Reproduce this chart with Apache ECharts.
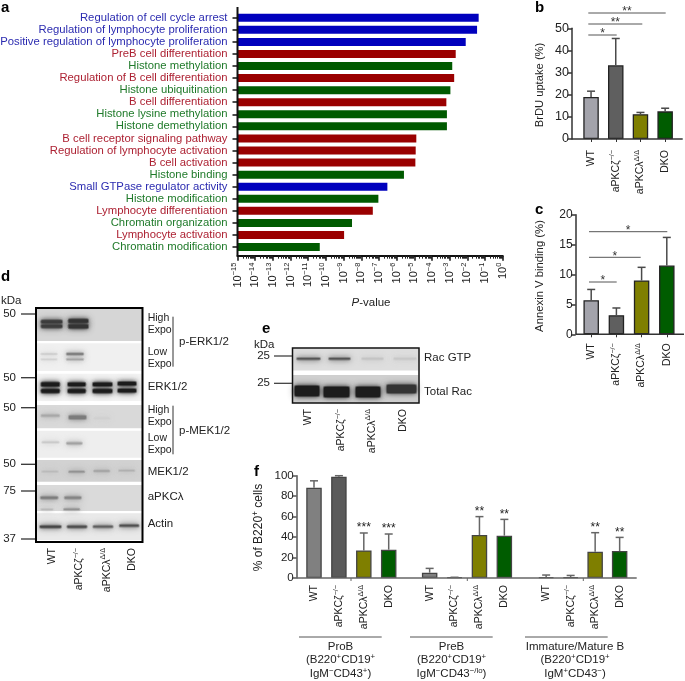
<!DOCTYPE html>
<html><head><meta charset="utf-8">
<style>html,body{margin:0;padding:0;background:#fff}#c{width:685px;height:681px}</style>
<script src="https://cdn.jsdelivr.net/npm/echarts@6/dist/echarts.min.js"></script>
</head><body><div id="c"></div>
<script>
// ---------- data ----------
const goTerms = ['Regulation of cell cycle arrest','Regulation of lymphocyte proliferation','Positive regulation of lymphocyte proliferation','PreB cell differentiation','Histone methylation','Regulation of B cell differentiation','Histone ubiquitination','B cell differentiation','Histone lysine methylation','Histone demethylation','B cell receptor signaling pathway','Regulation of lymphocyte activation','B cell activation','Histone binding','Small GTPase regulator activity','Histone modification','Lymphocyte differentiation','Chromatin organization','Lymphocyte activation','Chromatin modification'];
const goPvalues = [0.0437,0.0355,0.0081,0.0022,0.0014,0.0018,0.0011,6.5e-4,7e-4,7e-4,1.3e-5,1.2e-5,1.15e-5,2.6e-6,3e-7,9.3e-8,4.5e-8,3e-9,1.07e-9,4.5e-11];
const goClass = ['sig','sig','sig','bcell','hist','bcell','hist','bcell','hist','hist','bcell','bcell','bcell','hist','sig','hist','bcell','hist','bcell','hist'];
const genotypes = ['WT','aPKCζ−/−','aPKCλΔ/Δ','DKO'];
const brduMean = [19,33.3,11.2,12.5];
const brduUpper = [21.6,45.4,12,13.9];
const annexinMean = [5.7,3.2,9,11.5];
const annexinUpper = [7.5,4.4,11.2,16.2];
const proBMean = [88.3,99,27,27.7];
const proBUpper = [95,100,44,43];
const proBSig = ['','','***','***'];
const preBMean = [5.2,0.7,42,41.4];
const preBUpper = [9.4,0.7,60,57.3];
const preBSig = ['','','**','**'];
const matBMean = [0.8,0.8,25.7,26.4];
const matBUpper = [2.9,2.5,44.3,39.7];
const matBSig = ['','','**','**'];
const logTicks = 15;

// ---------- styling ----------
const FONT = '"Liberation Sans", Arial, sans-serif';
const barCol = {sig:'#0000bd', bcell:'#9a0000', hist:'#005a00'};
const txtCol = {sig:'#2b2bb0', bcell:'#ad2233', hist:'#1f7a2a'};
const genoCol = ['#a3a3ab','#5f5f5f','#7f7f00','#005c00'];
const genoColF = ['#808080','#5a5a5a','#7f7f00','#005c00'];
const richFor = (fs, col) => ({
  m:{fontFamily:FONT,fontSize:fs,color:col||'#222',lineHeight:fs+3},
  s:{fontFamily:FONT,fontSize:fs*0.68,color:col||'#222',lineHeight:fs+3,verticalAlign:'top'}
});
const geno = s => { const m = s.match(/^(aPKC.)(.+)$/); return m ? `{m|${m[1]}}{s|${m[2]}}` : `{m|${s}}`; };

// ---------- chart parts ----------
const graphic = [];
const line = (x1,y1,x2,y2,col,w) => graphic.push({type:'line',silent:true,z:20,shape:{x1,y1,x2,y2},style:{stroke:col||'#222',lineWidth:w||1}});
const text = (x,y,t,o) => { o=o||{}; graphic.push({type:'text',silent:true,z:30,x,y,rotation:o.rot||0,style:{text:t,fontFamily:FONT,fontSize:o.fs||11.5,fontWeight:o.w||'normal',fontStyle:o.it||'normal',fill:o.col||'#222',align:o.align||'left',verticalAlign:o.va||'middle',rich:o.rich}}); };
const rect = (x,y,w,h,fill,blur,z) => graphic.push({type:'rect',silent:true,z:z||10,shape:{x,y,width:w,height:h},style:blur?{fill,shadowColor:fill,shadowBlur:blur}:{fill}});
const smear = (x,y,w,h,fill) => {
  graphic.push({type:'rect',silent:true,z:6,shape:{x:x-1,y:y-1,width:w+2,height:h+2,r:2},style:{fill,opacity:0.45,shadowColor:fill,shadowBlur:7}});
  graphic.push({type:'rect',silent:true,z:7,shape:{x,y,width:w,height:h,r:1},style:{fill,shadowColor:fill,shadowBlur:4}});
};

// panel letters
[['a',1,8],['b',535,8],['c',535,210],['d',1,277],['e',262,329],['f',254,472]].forEach(p=>text(p[1],p[2],p[0],{fs:15,w:'bold',col:'#000'}));

// brackets
const bracket=(x1,x2,y,stars,col)=>{ line(x1,y,x2,y,col||'#555',1); text((x1+x2)/2,y-1,stars,{fs:12,align:'center',col:'#333'}); };
bracket(588.3,616.7,35,'*'); bracket(588.3,642.3,24,'**'); bracket(588.3,665.7,13,'**');
bracket(589,616.7,282,'*'); bracket(589,640.7,257.3,'*'); bracket(589,667.3,231.7,'*');

// axis titles
text(371,303,'{i|P}{m|-value}',{align:'center',rich:{i:{fontFamily:FONT,fontSize:11.5,fontStyle:'italic',color:'#222'},m:{fontFamily:FONT,fontSize:11.5,color:'#222'}}});
text(540,85,'BrDU uptake (%)',{rot:Math.PI/2,align:'center',fs:11.2});
text(540,276,'Annexin V binding (%)',{rot:Math.PI/2,align:'center',fs:11.3});
text(259,527.5,'{m|% of B220}{s|+}{m| cells}',{rot:Math.PI/2,align:'center',rich:richFor(12)});

// axis extensions
line(237.5,7,237.5,256.5,'#111',2);
line(572,139,682.7,139,'#333',1.5);
line(575.7,334.3,684,334.3,'#333',1.5);
line(296.7,578,636.7,578,'#666',1.5);
[351,467.3,583.3].forEach(x=>line(x,578,x,581,'#666',1));

// group captions in f
const capt=(x0,x1,cx,l)=>{ line(x0,637,x1,637,'#555',1); l.forEach((t,i)=>text(cx,[646.7,660,674.3][i],t,{align:'center',rich:richFor(11.5)})); };
capt(299,381.7,340.5,['{m|ProB}','{m|(B220}{s|+}{m|CD19}{s|+}','{m|IgM}{s|−}{m|CD43}{s|+}{m|)}']);
capt(410,492.7,451.5,['{m|PreB}','{m|(B220}{s|+}{m|CD19}{s|+}','{m|IgM}{s|−}{m|CD43}{s|−/lo}{m|)}']);
capt(525,607.7,575,['{m|Immature/Mature B}','{m|(B220}{s|+}{m|CD19}{s|+}','{m|IgM}{s|+}{m|CD43}{s|−}{m|)}']);

// ---------- panel d, blot image ----------
const dx=v=>v/3, dy=v=>265+v/3;
const dStrips=[[132,228,'#d6d6d6'],[235,318,'#f0f0f0'],[326,408,'#f3f3f3'],[420,490,'#d9d9d9'],[497,578,'#eeeeee'],[585,650,'#d2d2d2'],[660,738,'#dadada'],[745,825,'#e9e9e9']];
const dBands=[[124,186,170,9,'#3c3c3c'],[124,186,184,9,'#3c3c3c'],[206,264,168,11,'#333'],[206,264,184,11,'#333'],
[124,170,267,2,'#c4c4c4'],[124,170,283,2,'#cfcfcf'],[200,250,267,4,'#777'],[200,250,283,4,'#a5a5a5'],
[124,178,358,11,'#1c1c1c'],[124,178,378,11,'#1c1c1c'],[204,256,358,10,'#1c1c1c'],[204,256,378,10,'#1c1c1c'],[279,336,358,10,'#1c1c1c'],[279,336,378,10,'#1c1c1c'],[354,408,356,10,'#1c1c1c'],[354,408,377,10,'#1c1c1c'],
[124,178,452,5,'#a8a8a8'],[207,258,457,10,'#7c7c7c'],[283,328,460,3,'#cfcfcf'],[127,176,532,3,'#c6c6c6'],[200,246,535,5,'#a2a2a2'],
[127,173,620,2,'#b8b8b8'],[207,253,620,3,'#8c8c8c'],[282,328,618,3,'#9d9d9d'],[357,403,617,2,'#adadad'],
[122,173,698,6,'#7d7d7d'],[194,243,698,6,'#858585'],[124,158,733,2,'#b5b5b5'],[192,238,733,3,'#8a8a8a'],
[120,183,785,6,'#474747'],[202,260,785,6,'#4f4f4f'],[280,338,785,5,'#606060'],[359,416,782,5,'#505050']];
dStrips.forEach(s=>rect(dx(106),dy(s[0]),dx(322),(s[1]-s[0])/3,s[2],0,5));
dBands.forEach(b=>smear(dx(b[0]),dy(b[2]-b[3]/2),(b[1]-b[0])/3,b[3]/3,b[4]));
graphic.push({type:'rect',silent:true,z:12,shape:{x:36,y:308,width:106.5,height:234},style:{fill:'none',stroke:'#000',lineWidth:2}});
text(1,301,'kDa',{fs:11.5});
[[50,314],[50,377.7],[50,407.7],[50,464.3],[75,491],[37,539]].forEach(t=>{ text(16,t[1],String(t[0]),{align:'right',fs:11.5}); line(21,t[1],35,t[1],'#333',1.3); });
[['High',318],['Expo',330],['Low',352],['Expo',363.7],['ERK1/2',387],['High',410.3],['Expo',421.7],['Low',438.3],['Expo',450],['MEK1/2',471.7],['aPKCλ',496.7],['Actin',524.3]].forEach(t=>text(147.7,t[1],t[0],{fs:/High|Expo|Low/.test(t[0])?10.5:11.5}));
[['p-ERK1/2',342.3],['p-MEK1/2',430.7]].forEach(t=>text(179,t[1],t[0],{fs:11.5}));
line(173,316.7,173,366.7,'#333',1); line(173,405.7,173,454.3,'#333',1);
[51.7,79,106.7,131.7].forEach((x,i)=>text(x,548,geno(genotypes[i]),{rot:Math.PI/2,align:'right',rich:richFor(10.5)}));

// ---------- panel e, blot image ----------
rect(293,348.5,125.5,22,'#dedede',0,5);
rect(293,375,125.5,28,'#cfcfcf',0,5);
[[297,320,'#555'],[329,350,'#555'],[362,383,'#c4c4c4'],[394,416,'#c8c8c8']].forEach(b=>smear(b[0],358,b[1]-b[0],1.5,b[2]));
[[295,319,386,10,'#1c1c1c'],[324,349,387,10,'#1c1c1c'],[356,380,387,10,'#1c1c1c'],[387,416,385,8,'#333']].forEach(b=>smear(b[0],b[2],b[1]-b[0],b[3],b[4]));
rect(293,371,125.5,4,'#fff',0,8);
graphic.push({type:'rect',silent:true,z:12,shape:{x:292.5,y:348,width:126.5,height:55},style:{fill:'none',stroke:'#111',lineWidth:1.5}});
text(254,345,'kDa',{fs:11.5});
[[25,356],[25,383.3]].forEach(t=>{ text(270,t[1],String(t[0]),{align:'right',fs:11.5}); line(274,t[1],292,t[1],'#333',1.2); });
text(424,358,'Rac GTP',{fs:11.5}); text(424,392,'Total Rac',{fs:11.5});
[308,341,371.7,402.7].forEach((x,i)=>text(x,409,geno(genotypes[i]),{rot:Math.PI/2,align:'right',rich:richFor(10.5)}));

// ---------- series helpers ----------
const errSeries=(g,upper,means,sig,col)=>({type:'custom',xAxisIndex:g,yAxisIndex:g,z:4,clip:false,
  data:upper.map((u,i)=>[i,means[i],u]),encode:{x:0,y:[1,2]},
  renderItem:(p,api)=>{
    const a=api.coord([api.value(0),api.value(1)]), b=api.coord([api.value(0),api.value(2)]);
    const st={stroke:col||'#4a4a4a',lineWidth:1.5};
    const ch=[{type:'line',shape:{x1:a[0],y1:a[1],x2:b[0],y2:b[1]},style:st},
              {type:'line',shape:{x1:a[0]-4,y1:b[1],x2:a[0]+4,y2:b[1]},style:st}];
    if(sig&&sig[p.dataIndex]) ch.push({type:'text',x:a[0],y:b[1]+1,style:{text:sig[p.dataIndex],fontFamily:FONT,fontSize:12,fill:'#222',align:'center',verticalAlign:'bottom'}});
    return {type:'group',children:ch};
  }});
const barSeries=(g,vals,cols,border)=>({type:'bar',xAxisIndex:g,yAxisIndex:g,barWidth:15.5,z:3,
  data:vals.map((v,i)=>({value:v,itemStyle:{color:cols[i],borderColor:border||'#222',borderWidth:1.3}}))});
const catAxis=(g,fs,margin,tick)=>({type:'category',gridIndex:g,data:genotypes,axisLine:{show:false,onZero:false},
  axisTick:{show:tick,alignWithLabel:true,length:3,lineStyle:{color:'#333',width:1}},
  axisLabel:{interval:0,rotate:90,margin,formatter:geno,rich:richFor(fs),fontFamily:FONT}});
const valAxis=(g,max,interval,off,fs,col)=>({type:'value',gridIndex:g,min:0,max,interval,offset:off,splitLine:{show:false},
  axisLine:{show:true,onZero:false,lineStyle:{color:col||'#333',width:1.5}},axisTick:{show:true,length:4,lineStyle:{color:col||'#333',width:1.5}},
  axisLabel:{fontFamily:FONT,fontSize:fs,color:'#222',margin:3}});

const fixedGrid=g=>Object.assign({outerBoundsMode:'none',containLabel:false},g);
const option={
  animation:false,backgroundColor:'#fff',
  grid:[
    {left:237.5,top:11.7,width:265.2,height:241.4},
    {left:578.7,top:28.3,width:98.8,height:110.7},
    {left:578.6,top:214.7,width:100.8,height:119.6},
    {left:301.55,top:475.7,width:99.6,height:102.3},
    {left:417.2,top:475.7,width:99.6,height:102.3},
    {left:533.9,top:475.7,width:98,height:102.3}
  ].map(fixedGrid),
  xAxis:[
    {type:'log',logBase:10,gridIndex:0,min:Math.pow(10,-logTicks),max:1,offset:2.6,position:'bottom',splitNumber:logTicks,interval:1,
     axisLine:{show:true,onZero:false,lineStyle:{color:'#111',width:2}},
     axisTick:{show:true,length:5,lineStyle:{color:'#111',width:1.5}},
     minorTick:{show:true,splitNumber:9,length:3,lineStyle:{color:'#222',width:1}},
     splitLine:{show:false},
     axisLabel:{rotate:90,margin:7,hideOverlap:false,interval:0,rich:richFor(11),
       formatter:v=>`{m|10}{s|${Math.round(Math.log10(v)).toString().replace('-','−')}}`}},
    catAxis(1,10.5,11,true),catAxis(2,10.5,9,true),
    catAxis(3,10.5,7,false),catAxis(4,10.5,7,false),catAxis(5,10.5,7,false)
  ],
  yAxis:[
    {type:'category',gridIndex:0,inverse:true,data:goTerms,
     axisLine:{show:false,onZero:false},axisTick:{show:true,alignWithLabel:true,length:5,lineStyle:{color:'#111',width:1.5}},
     axisLabel:{interval:0,margin:10,fontFamily:FONT,fontSize:11.3,color:(v,i)=>txtCol[goClass[i]]}},
    valAxis(1,50,10,6.7,12.5),
    valAxis(2,20,5,2.9,12),
    valAxis(3,100,20,4.85,11.5,'#555'),
    Object.assign(valAxis(4,100,20,0,11),{show:false}),
    Object.assign(valAxis(5,100,20,0,11),{show:false})
  ],
  series:[
    {type:'custom',xAxisIndex:0,yAxisIndex:0,encode:{x:0,y:1},clip:false,
     data:goPvalues.map((v,i)=>[v,i]),
     renderItem:(p,api)=>{
       const a=api.coord([Math.pow(10,-logTicks),api.value(1)]), b=api.coord([api.value(0),api.value(1)]);
       return {type:'rect',shape:{x:a[0],y:a[1]-4,width:b[0]-a[0],height:8},style:{fill:barCol[goClass[p.dataIndex]]}};
     }},
    barSeries(1,brduMean,genoCol),errSeries(1,brduUpper,brduMean),
    barSeries(2,annexinMean,genoCol),errSeries(2,annexinUpper,annexinMean),
    barSeries(3,proBMean,genoColF,'#444'),errSeries(3,proBUpper,proBMean,proBSig,'#666'),
    barSeries(4,preBMean,genoColF,'#444'),errSeries(4,preBUpper,preBMean,preBSig,'#666'),
    barSeries(5,matBMean,genoColF,'#444'),errSeries(5,matBUpper,matBMean,matBSig,'#666')
  ],
  graphic:{elements:graphic}
};
echarts.init(document.getElementById('c')).setOption(option);
</script></body></html>
